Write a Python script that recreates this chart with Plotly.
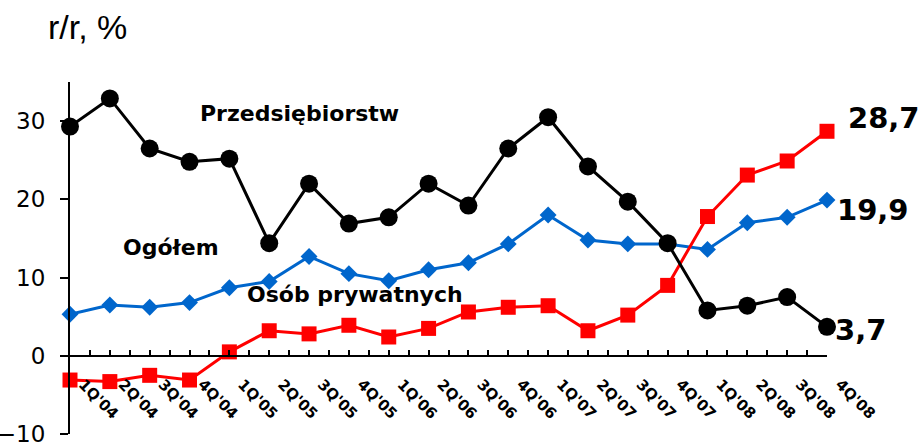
import plotly.graph_objects as go

quarters = ["1Q'04", "2Q'04", "3Q'04", "4Q'04", "1Q'05", "2Q'05", "3Q'05", "4Q'05",
            "1Q'06", "2Q'06", "3Q'06", "4Q'06", "1Q'07", "2Q'07", "3Q'07", "4Q'07",
            "1Q'08", "2Q'08", "3Q'08", "4Q'08"]
przedsiebiorstw = [29.3, 32.9, 26.5, 24.8, 25.2, 14.4, 22.0, 16.9, 17.7, 22.0,
                   19.2, 26.5, 30.5, 24.2, 19.7, 14.4, 5.8, 6.4, 7.5, 3.7]
ogolem = [5.3, 6.5, 6.2, 6.8, 8.7, 9.5, 12.7, 10.5, 9.6, 11.0,
          11.9, 14.3, 18.0, 14.8, 14.3, 14.3, 13.6, 17.0, 17.7, 19.9]
osob_prywatnych = [-3.1, -3.3, -2.5, -3.1, 0.5, 3.2, 2.8, 3.9, 2.4, 3.5,
                   5.6, 6.2, 6.4, 3.2, 5.2, 9.0, 17.8, 23.1, 24.9, 28.7]
y_ticks = [-10, 0, 10, 20, 30]

x = list(range(len(quarters)))

DV = "DejaVu Sans"
fig = go.Figure()
fig.add_trace(go.Scatter(x=x, y=ogolem, mode="lines+markers", cliponaxis=False,
                         line=dict(color="#0066CC", width=3),
                         marker=dict(symbol="diamond", size=13, color="#0066CC")))
fig.add_trace(go.Scatter(x=x, y=osob_prywatnych, mode="lines+markers", cliponaxis=False,
                         line=dict(color="#FF0000", width=3),
                         marker=dict(symbol="square", size=15, color="#FF0000")))
fig.add_trace(go.Scatter(x=x, y=przedsiebiorstw, mode="lines+markers", cliponaxis=False,
                         line=dict(color="#000000", width=3),
                         marker=dict(symbol="circle", size=18, color="#000000")))

fig.update_layout(
    width=921, height=445,
    margin=dict(l=70, r=94, t=82, b=11),
    paper_bgcolor="white", plot_bgcolor="white",
    showlegend=False,
    font=dict(family=DV, color="black"),
    xaxis=dict(range=[0, len(quarters) - 1], anchor="free", position=10 / 45,
               automargin=False,
               showgrid=False, zeroline=False, showline=True, linecolor="black", linewidth=2,
               tickmode="array", tickvals=x, ticktext=quarters, tickangle=45,
               ticks="inside", ticklen=5, tickwidth=1.5, tickcolor="black",
               minor=dict(dtick=0.5, tick0=0, ticks="inside", ticklen=5, tickwidth=1.5,
                          tickcolor="black"),
               ticklabelstandoff=13, ticklabelshift=13, ticklabeloverflow="allow",
               tickfont=dict(family=DV, size=15, color="black", weight="bold")),
    yaxis=dict(range=[-10, 35], showgrid=False, zeroline=False, showline=True,
               automargin=False, ticklabeloverflow="allow",
               linecolor="black", linewidth=2, tickmode="array", tickvals=y_ticks,
               ticks="outside", ticklen=8, tickwidth=2, tickcolor="black",
               ticklabelstandoff=10,
               tickfont=dict(family=DV, size=23, color="black")),
)

bold = dict(family=DV, size=22, color="black", weight="bold")
big = dict(family=DV, size=29, color="black", weight="bold")
fig.add_annotation(x=5.75, y=31.0, text="Przedsiębiorstw", showarrow=False, font=bold)
fig.add_annotation(x=2.54, y=13.8, text="Ogółem", showarrow=False, font=bold)
fig.add_annotation(x=7.15, y=7.8, text="Osób prywatnych", showarrow=False, font=bold)
for txt, px, py in [("28,7", 846, 118), ("19,9", 835, 210), ("3,7", 833, 330)]:
    fig.add_annotation(xref="paper", yref="paper", x=(px - 70) / 757, y=(434 - py) / 352,
                       text=txt, showarrow=False, xanchor="left", yanchor="middle", font=big)
fig.add_annotation(xref="paper", yref="paper", x=(46 - 70) / 757, y=(434 - 27) / 352,
                   text="r/r, %", showarrow=False, xanchor="left", yanchor="middle",
                   font=dict(family="Liberation Sans", size=34, color="black"))

fig.write_html("out.html", config={"displayModeBar": False},
               post_script="document.body.style.margin='0';document.body.style.overflow='hidden';")
